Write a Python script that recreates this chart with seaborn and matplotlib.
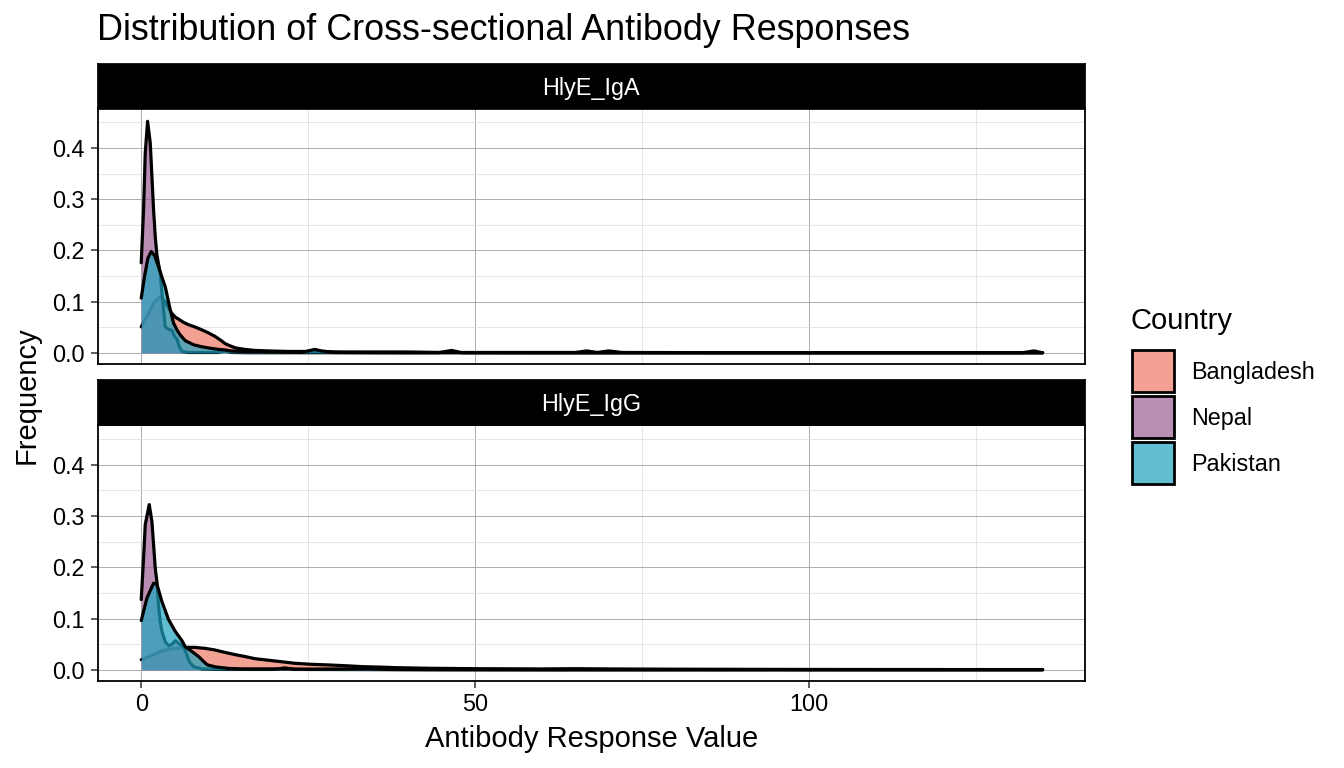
import numpy as np
import pandas as pd
import matplotlib
matplotlib.use("Agg")
import matplotlib.pyplot as plt
import seaborn as sns
from matplotlib.patches import Rectangle

# ----- data (density curves per antigen / country) -----
countries = ["Bangladesh", "Nepal", "Pakistan"]
antigens = ["HlyE_IgA", "HlyE_IgG"]
fill_colors = {"Bangladesh": "#EF7966", "Nepal": "#9E5F97", "Pakistan": "#1FA4C0"}

iga_bangladesh_x = [0, 0.5, 1.1, 1.85, 2.85, 3.6, 4.1, 4.6, 5.1, 5.6, 6.3, 7.1, 8.0, 9.1, 10.1,
                    11.1, 12.0, 12.6, 13.3, 14.1, 15.5, 17, 19, 22, 25, 30, 35, 40, 45, 55,
                    65, 66.7, 68.3, 70, 72, 90, 110, 132, 133.7, 135]
iga_bangladesh_y = [0.051, 0.064, 0.077, 0.097, 0.110, 0.100, 0.087, 0.077, 0.070, 0.066, 0.060,
                    0.055, 0.051, 0.045, 0.039, 0.032, 0.024, 0.018, 0.014, 0.010, 0.007, 0.005,
                    0.004, 0.003, 0.003, 0.002, 0.002, 0.002, 0.001, 0.001, 0.001, 0.004, 0.001,
                    0.004, 0.001, 0.0005, 0.0005, 0.0005, 0.004, 0.0005]

iga_nepal_x = [0, 0.35, 0.6, 0.95, 1.35, 1.6, 1.85, 2.1, 2.35, 2.85, 3.1, 3.35, 3.6, 4.1, 4.6,
               5.0, 5.35, 5.7, 6.1, 7.0, 9.0, 11.5, 12.5, 13.5, 16, 20, 30, 44.5, 46.5, 48,
               60, 80, 100, 120, 135]
iga_nepal_y = [0.176, 0.28, 0.39, 0.452, 0.41, 0.344, 0.279, 0.227, 0.191, 0.155, 0.116, 0.084,
               0.051, 0.046, 0.044, 0.032, 0.027, 0.012, 0.003, 0.001, 0.001, 0.001, 0.004,
               0.001, 0.0005, 0.0005, 0.0005, 0.0005, 0.005, 0.0005, 0.0003, 0.0003, 0.0003,
               0.0003, 0.0003]

iga_pakistan_x = [0, 0.5, 1.0, 1.5, 2.0, 2.6, 3.1, 3.6, 4.0, 4.35, 4.85, 5.35, 5.85, 6.6, 7.85,
                  9.1, 10.5, 11.6, 12.5, 13.5, 15, 17, 20, 24, 25, 26, 27, 29, 35, 50, 80,
                  110, 135]
iga_pakistan_y = [0.107, 0.15, 0.185, 0.198, 0.19, 0.168, 0.148, 0.129, 0.105, 0.084, 0.058,
                  0.045, 0.035, 0.024, 0.016, 0.012, 0.009, 0.007, 0.006, 0.004, 0.003, 0.003,
                  0.002, 0.001, 0.004, 0.007, 0.004, 0.001, 0.0005, 0.0003, 0.0003, 0.0003,
                  0.0003]

igg_bangladesh_x = [0, 1, 2, 3.1, 4.5, 6.6, 8, 9.6, 11, 12.6, 14, 15.6, 17, 19, 21, 23, 25.5,
                    28, 31, 33, 36, 38, 43, 50, 60, 65, 70, 80, 100, 120, 135]
igg_bangladesh_y = [0.020, 0.025, 0.031, 0.037, 0.041, 0.044, 0.044, 0.042, 0.039, 0.034, 0.030,
                    0.026, 0.022, 0.019, 0.016, 0.013, 0.011, 0.0098, 0.008, 0.0065, 0.0055,
                    0.0045, 0.0033, 0.0025, 0.002, 0.0025, 0.002, 0.0015, 0.001, 0.0008, 0.0008]

igg_nepal_x = [0, 0.35, 0.6, 1.2, 1.6, 1.85, 2.1, 2.35, 2.6, 2.85, 3.1, 3.6, 4.1, 4.6, 5.1, 5.6,
               6.35, 6.85, 7.2, 7.85, 9.1, 12.1, 20, 21.5, 23, 40, 60, 80, 100, 135]
igg_nepal_y = [0.137, 0.218, 0.283, 0.322, 0.289, 0.244, 0.198, 0.172, 0.124, 0.094, 0.075,
               0.055, 0.047, 0.050, 0.057, 0.052, 0.045, 0.029, 0.016, 0.0065, 0.002, 0.001,
               0.001, 0.004, 0.001, 0.0005, 0.0003, 0.0003, 0.0003, 0.0003]

igg_pakistan_x = [0, 0.85, 1.85, 2.35, 3.1, 4.1, 5.1, 6.1, 6.6, 7.6, 8.6, 9.3, 9.9, 11.1, 13.1,
                  15, 20, 25, 30, 34, 37, 45, 60, 80, 100, 135]
igg_pakistan_y = [0.096, 0.14, 0.169, 0.167, 0.133, 0.098, 0.075, 0.057, 0.045, 0.036, 0.026,
                  0.017, 0.010, 0.006, 0.003, 0.002, 0.002, 0.0015, 0.002, 0.003, 0.001, 0.0005,
                  0.0003, 0.0003, 0.0003, 0.0003]

curves = {
    ("HlyE_IgA", "Bangladesh"): (iga_bangladesh_x, iga_bangladesh_y),
    ("HlyE_IgA", "Nepal"): (iga_nepal_x, iga_nepal_y),
    ("HlyE_IgA", "Pakistan"): (iga_pakistan_x, iga_pakistan_y),
    ("HlyE_IgG", "Bangladesh"): (igg_bangladesh_x, igg_bangladesh_y),
    ("HlyE_IgG", "Nepal"): (igg_nepal_x, igg_nepal_y),
    ("HlyE_IgG", "Pakistan"): (igg_pakistan_x, igg_pakistan_y),
}
df = pd.concat([pd.DataFrame({"antigen": a, "Country": c, "value": xs, "density": ys})
                for (a, c), (xs, ys) in curves.items()], ignore_index=True)

# ----- figure layout (pixel boxes of the ggplot-like facets) -----
W, H = 1344, 768
FONT = ["Liberation Sans", "DejaVu Sans"]
sns.set_theme(style="white")
plt.rcParams["font.family"] = FONT
plt.rcParams["text.color"] = "black"
plt.rcParams["axes.labelcolor"] = "black"

TICK_FS = 16.8
TITLE_FS = 21

def box(l, t, r, b):
    return [l / W, 1 - b / H, (r - l) / W, (b - t) / H]

fig = plt.figure(figsize=(W / 100, H / 100), dpi=100)
fig.patch.set_facecolor("white")

panels = {"HlyE_IgA": (108.5, 364), "HlyE_IgG": (425, 681)}
strips = {"HlyE_IgA": (63.5, 108.5), "HlyE_IgG": (380, 425)}
L, R = 97.5, 1085

for i, antigen in enumerate(antigens):
    t, b = panels[antigen]
    ax = fig.add_axes(box(L, t, R, b))
    ax.set_facecolor("white")
    ax.set_axisbelow(True)
    sub_a = df[df["antigen"] == antigen]
    for country in countries:
        sub = sub_a[sub_a["Country"] == country]
        ax.fill_between(sub["value"], 0, sub["density"], color=fill_colors[country],
                        alpha=0.7, lw=0, zorder=2)
        sns.lineplot(data=sub, x="value", y="density", estimator=None, sort=False,
                     color="black", lw=2.3, ax=ax, zorder=2)
    ax.set_xlim(-6.55, 141.35)
    ax.set_ylim(-0.0215, 0.477)
    ax.set_xticks([0, 50, 100])
    ax.set_xticks([25, 75, 125], minor=True)
    ax.set_yticks([0.0, 0.1, 0.2, 0.3, 0.4])
    ax.set_yticks([0.05, 0.15, 0.25, 0.35, 0.45], minor=True)
    ax.set_yticklabels(["0.0", "0.1", "0.2", "0.3", "0.4"])
    ax.grid(which="major", color="#ADADAD", lw=0.7)
    ax.grid(which="minor", color="#E0E0E0", lw=0.6)
    ax.set_xlabel("")
    ax.set_ylabel("")
    for s in ax.spines.values():
        s.set_color("black")
        s.set_linewidth(1.3)
    ax.tick_params(which="major", length=4.8, width=1.1, color="#333333",
                   labelsize=TICK_FS, labelcolor="black", pad=3.5)
    ax.tick_params(axis="y", pad=4.5)
    ax.tick_params(which="minor", length=0)
    ax.tick_params(axis="both", left=True, bottom=(i == 1))
    if i == 0:
        ax.tick_params(axis="x", labelbottom=False)

    st, sb = strips[antigen]
    sax = fig.add_axes(box(L, st, R, sb))
    sax.set_facecolor("black")
    sax.set_xticks([])
    sax.set_yticks([])
    for s in sax.spines.values():
        s.set_color("black")
    sax.text(0.5, 0.5, antigen, color="white", fontsize=TICK_FS, ha="center",
             va="center_baseline", transform=sax.transAxes)

fig.text(97 / W, 1 - 40.5 / H, "Distribution of Cross-sectional Antibody Responses",
         fontsize=25.8, ha="left", va="baseline")
fig.text((L + R) / 2 / W, 1 - 747 / H, "Antibody Response Value", fontsize=TITLE_FS,
         ha="center", va="baseline")
fig.text(35 / W, 1 - 395 / H, "Frequency", fontsize=TITLE_FS, rotation=90,
         rotation_mode="anchor", ha="center", va="baseline")

# legend drawn by hand in pixel coordinates
lax = fig.add_axes([0, 0, 1, 1])
lax.set_xlim(0, W)
lax.set_ylim(H, 0)
lax.axis("off")
lax.text(1131, 329.3, "Country", fontsize=TITLE_FS, ha="left", va="baseline")
for k, country in enumerate(countries):
    top = 350 + 46 * k
    lax.add_patch(Rectangle((1132, top), 42, 41.7, facecolor="white", edgecolor="none"))
    lax.add_patch(Rectangle((1132, top), 42, 41.7, facecolor=fill_colors[country],
                            alpha=0.7, edgecolor="none"))
    lax.add_patch(Rectangle((1132, top), 42, 41.7, facecolor="none",
                            edgecolor="black", lw=2.0))
    lax.text(1191.5, top + 20.8 + 8, country, fontsize=TICK_FS, ha="left", va="baseline")

fig.savefig("out.png", dpi=100)
